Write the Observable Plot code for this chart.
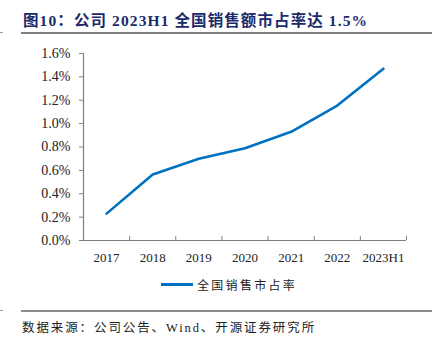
<!DOCTYPE html>
<html>
<head>
<meta charset="utf-8">
<script src="https://cdn.jsdelivr.net/npm/d3@7"></script>
<script src="https://cdn.jsdelivr.net/npm/@observablehq/plot@0.6"></script>
<style>
  html, body { margin:0; padding:0; background:#fff; }
  #page { position:relative; width:435px; height:347px; overflow:hidden; background:#fff; }
  .title { position:absolute; left:23px; top:8px; font-family:"Liberation Serif","Noto Sans CJK SC",serif; font-weight:bold; font-size:15.5px; color:#1c2a6b; white-space:nowrap; letter-spacing:1.1px; }
  .rule { position:absolute; left:21px; width:411px; height:2px; background:#808080; }
  .dash { position:absolute; left:0; width:3px; height:1px; background:#999; }
  #chart { position:absolute; left:0; top:40px; }
  #chart svg text { font-family:"Liberation Serif","Times New Roman",serif !important; font-variant:normal !important; font-variant-numeric:normal !important; }
  .legend { position:absolute; top:276px; left:161px; display:flex; align-items:center; font-family:"Noto Sans CJK SC",sans-serif; font-size:12px; letter-spacing:2.3px; color:#222; white-space:nowrap; }
  .legend .sw { width:32px; height:3px; background:#0070c0; margin-right:4px; }
  .source { position:absolute; left:22px; top:317px; font-family:"Liberation Serif","Noto Sans CJK SC",serif; font-size:12.5px; letter-spacing:1.9px; color:#222; white-space:nowrap; }
</style>
</head>
<body>
<div id="page">
  <div class="title">图10：公司 2023H1 全国销售额市占率达 1.5%</div>
  <div class="dash" style="top:32px"></div>
  <div class="rule" style="top:32px"></div>
  <div id="chart"></div>
  <div class="legend"><div class="sw"></div><span>全国销售市占率</span></div>
  <div class="dash" style="top:310px"></div>
  <div class="rule" style="top:310px; height:1.5px; background:#8a8a8a"></div>
  <div class="source">数据来源：公司公告、Wind、开源证券研究所</div>
</div>
<script>
const categories = ["2017", "2018", "2019", "2020", "2021", "2022", "2023H1"];
const share = [0.23, 0.565, 0.70, 0.79, 0.93, 1.155, 1.47];
const yTicks = [0, 0.2, 0.4, 0.6, 0.8, 1.0, 1.2, 1.4, 1.6];

const data = categories.map((c, i) => ({i, c, v: share[i]}));
const bounds = d3.range(categories.length + 1).map(k => k - 0.5);

const axisColor = "#808080";

const chart = Plot.plot({
  width: 435,
  height: 235,
  marginTop: 13,
  marginBottom: 35,
  marginLeft: 83,
  marginRight: 29,
  style: {fontFamily: "'Liberation Serif', 'Times New Roman', serif", fontSize: "13px", color: "#222", background: "#fff"},
  x: {
    type: "linear",
    domain: [-0.5, categories.length - 0.5],
    ticks: d3.range(categories.length),
    tickFormat: i => categories[i],
    tickSize: 0,
    tickPadding: 12,
    label: null
  },
  y: {
    domain: [0, 1.6],
    ticks: yTicks,
    tickFormat: d => d.toFixed(1) + "%",
    tickSize: 4,
    tickPadding: 9,
    label: null
  },
  marks: [
    Plot.ruleX([-0.5], {stroke: axisColor, strokeWidth: 1.2}),
    Plot.ruleY([0], {stroke: axisColor, strokeWidth: 1.2}),
    Plot.ruleX(bounds, {y1: 0, y2: 0, insetTop: -4, stroke: axisColor, strokeWidth: 1}),
    Plot.line(data, {x: "i", y: "v", stroke: "#0070c0", strokeWidth: 2.6, strokeLinejoin: "round"})
  ]
});
const svg = d3.select(chart);
svg.selectAll("g[aria-label^='y-axis']").attr("font-size", "14px").attr("stroke", null);
svg.selectAll("g[aria-label^='y-axis'] text").style("font-size", "14px");
svg.selectAll("g[aria-label^='y-axis'] line, g[aria-label^='y-axis'] path").attr("stroke", axisColor);
svg.selectAll("g[aria-label^='x-axis']").attr("font-size", "13px");
svg.selectAll("g[aria-label^='x-axis'] text").style("font-size", "13px");
document.getElementById("chart").appendChild(chart);
</script>
</body>
</html>
